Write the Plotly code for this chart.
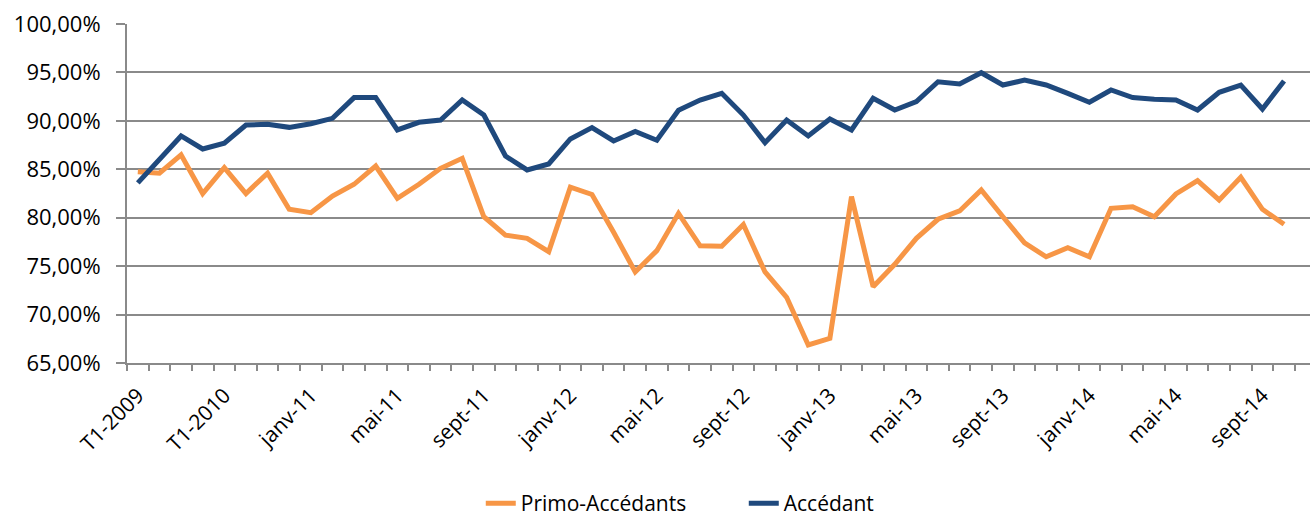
import plotly.graph_objects as go

quarters = ["T1-2009", "T2-2009", "T3-2009", "T4-2009",
            "T1-2010", "T2-2010", "T3-2010", "T4-2010"]
months = ["janv", "févr", "mars", "avr", "mai", "juin",
          "juil", "août", "sept", "oct", "nov", "déc"]
categories = quarters + [f"{m}-{y}" for y in ("11", "12", "13") for m in months] \
    + [f"{m}-14" for m in months[:10]]

primo = [84.75, 84.6, 86.5, 82.5, 85.17, 82.5, 84.6, 80.87, 80.52, 82.24,
         83.45, 85.34, 82.0, 83.45, 85.1, 86.13, 80.1, 78.2, 77.87, 76.5,
         83.15, 82.4, 78.5, 74.4, 76.6, 80.45, 77.1, 77.05, 79.3, 74.4,
         71.78, 66.86, 67.55, 82.17, 72.88, 75.19, 77.87, 79.84, 80.7, 82.87,
         80.1, 77.4, 75.97, 76.9, 75.97, 80.97, 81.14, 80.1, 82.45, 83.82,
         81.83, 84.17, 80.87, 79.32]

accedant = [83.6, 86.1, 88.44, 87.1, 87.7, 89.57, 89.64, 89.33, 89.7, 90.26,
            92.4, 92.4, 89.06, 89.85, 90.09, 92.15, 90.6, 86.37, 84.93, 85.55,
            88.13, 89.3, 87.92, 88.9, 88.0, 91.1, 92.15, 92.84, 90.6, 87.75,
            90.09, 88.44, 90.19, 89.06, 92.33, 91.12, 91.98, 94.04, 93.81, 94.97,
            93.7, 94.2, 93.7, 92.84, 91.92, 93.19, 92.4, 92.22, 92.15, 91.12,
            92.95, 93.7, 91.22, 94.12]

x = list(range(len(categories)))
grid = "#8a8a8a"
font = "Open Sans, Noto Sans, sans-serif"

fig = go.Figure()
fig.add_trace(go.Scatter(
    x=x, y=primo, name="Primo-Accédants", mode="lines",
    line=dict(color="#F79646", width=5),
    customdata=categories,
    hovertemplate="%{customdata}: %{y:.2f}%<extra>Primo-Accédants</extra>"
))
fig.add_trace(go.Scatter(
    x=x, y=accedant, name="Accédant", mode="lines",
    line=dict(color="#1F497D", width=5),
    customdata=categories,
    hovertemplate="%{customdata}: %{y:.2f}%<extra>Accédant</extra>"
))

fig.update_layout(
    width=1310, height=516,
    margin=dict(l=127, r=0, t=24, b=153),
    paper_bgcolor="white", plot_bgcolor="white",
    separators=", ",
    font=dict(family=font, size=20, color="#000000"),
    legend=dict(orientation="h", xref="container", x=0.367, xanchor="left",
                yref="container", y=0.024, yanchor="middle",
                font=dict(size=21), entrywidth=218, entrywidthmode="pixels"),
    xaxis=dict(
        range=[-0.5, 54.2], automargin=False,
        tickmode="array", tickvals=x[::4], ticktext=categories[::4],
        tickangle=-45, ticks="", showgrid=False,
        showline=True, linecolor=grid, linewidth=2,
        tickfont=dict(size=21), ticklabelstandoff=10,
        minor=dict(tick0=-0.5, dtick=1, ticks="outside", ticklen=6,
                   tickcolor=grid, tickwidth=2, showgrid=False),
        zeroline=False,
    ),
    yaxis=dict(
        range=[65, 100], dtick=5, tickformat=".2f", ticksuffix="%",
        automargin=False,
        showgrid=True, gridcolor=grid, gridwidth=2,
        showline=True, linecolor=grid, linewidth=2,
        ticks="outside", ticklen=9, tickcolor=grid, tickwidth=2,
        tickfont=dict(size=22), ticklabelstandoff=11, zeroline=False,
    ),
)

fig.write_html("out.html", config={"displayModeBar": False},
               post_script="document.body.style.margin='0';")
